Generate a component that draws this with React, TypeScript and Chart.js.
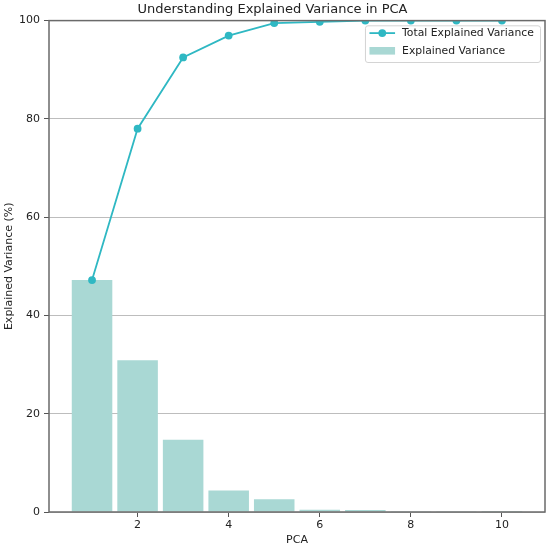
import { useEffect, useRef } from 'react';
import { Chart, registerables } from 'chart.js';

Chart.register(...registerables);

const pcaComponents = [1, 2, 3, 4, 5, 6, 7, 8, 9, 10];
const explainedVariance = [47.2, 30.9, 14.7, 4.4, 2.6, 0.45, 0.4, 0.05, 0.03, 0.02];
const totalExplainedVariance = [47.2, 78.0, 92.5, 96.95, 99.5, 99.75, 100, 100, 100, 100];
const xTicks = [2, 4, 6, 8, 10];
const yTicks = [0, 20, 40, 60, 80, 100];

const LINE_COLOR = '#2fb8c3';
const BAR_COLOR = '#a9d8d4';
const FONT = 'DejaVu Sans';

const spinesPlugin = {
  id: 'spines',
  afterDatasetsDraw(chart: any) {
    const { ctx, chartArea } = chart;
    const { left, right, top, bottom } = chartArea;
    ctx.save();
    ctx.strokeStyle = '#6a6a6a';
    ctx.lineWidth = 1.5;
    ctx.strokeRect(left, top, right - left, bottom - top);
    ctx.restore();
  },
};

const legendPlugin = {
  id: 'mplLegend',
  afterDraw(chart: any) {
    const { ctx, chartArea } = chart;
    const fontSize = 10.8;
    ctx.save();
    ctx.font = `${fontSize}px "${FONT}"`;
    const labels = ['Total Explained Variance', 'Explained Variance'];
    const w = Math.max(...labels.map((l) => ctx.measureText(l).width));
    const boxW = 36.6 + w + 6.7;
    const boxH = 36.7;
    const boxR = chartArea.right - 4.5;
    const boxL = boxR - boxW;
    const boxT = chartArea.top + 5.2;
    ctx.beginPath();
    (ctx as any).roundRect(boxL, boxT, boxW, boxH, 2.5);
    ctx.fillStyle = 'rgba(255,255,255,0.8)';
    ctx.fill();
    ctx.strokeStyle = '#d4d4d4';
    ctx.lineWidth = 1;
    ctx.stroke();

    const row1 = boxT + 7.3;
    const row2 = boxT + 25;
    const hx0 = boxL + 4;
    const hx1 = boxL + 29.6;
    ctx.strokeStyle = LINE_COLOR;
    ctx.lineWidth = 1.8;
    ctx.beginPath();
    ctx.moveTo(hx0, row1);
    ctx.lineTo(hx1, row1);
    ctx.stroke();
    ctx.fillStyle = LINE_COLOR;
    ctx.beginPath();
    ctx.arc((hx0 + hx1) / 2, row1, 3.9, 0, Math.PI * 2);
    ctx.fill();
    ctx.fillStyle = BAR_COLOR;
    ctx.fillRect(hx0, row2 - 3.8, hx1 - hx0, 7.6);

    ctx.fillStyle = '#222';
    ctx.textBaseline = 'middle';
    ctx.textAlign = 'left';
    ctx.fillText(labels[0], boxL + 36.6, row1);
    ctx.fillText(labels[1], boxL + 36.6, row2);
    ctx.restore();
  },
};

export default function App() {
  const canvasRef = useRef<HTMLCanvasElement | null>(null);

  useEffect(() => {
    document.body.style.margin = '0';
    const canvas = canvasRef.current;
    if (!canvas) return;
    Chart.defaults.font.family = FONT;
    const chart = new Chart(canvas, {
      type: 'bar',
      data: {
        datasets: [
          {
            type: 'line',
            label: 'Total Explained Variance',
            data: pcaComponents.map((x, i) => ({ x, y: totalExplainedVariance[i] })),
            borderColor: LINE_COLOR,
            backgroundColor: LINE_COLOR,
            borderWidth: 1.8,
            pointRadius: 3.9,
            pointBorderWidth: 0,
            pointBackgroundColor: LINE_COLOR,
            clip: 0,
            order: 0,
          } as any,
          {
            type: 'bar',
            label: 'Explained Variance',
            data: pcaComponents.map((x, i) => ({ x, y: explainedVariance[i] })),
            backgroundColor: BAR_COLOR,
            borderWidth: 0,
            barPercentage: 0.89,
            categoryPercentage: 1,
            order: 1,
          } as any,
        ],
      },
      options: {
        animation: false,
        responsive: false,
        devicePixelRatio: 1,
        layout: { padding: { left: 0, right: 5, top: 0, bottom: 0 } },
        plugins: {
          legend: { display: false },
          tooltip: { enabled: false },
          title: {
            display: true,
            text: 'Understanding Explained Variance in PCA',
            color: '#222',
            font: { size: 13, weight: 'normal', family: FONT },
            padding: { top: 2, bottom: 3 },
          },
        },
        scales: {
          x: {
            type: 'linear',
            min: 0.055,
            max: 10.945,
            offset: false,
            afterBuildTicks: (s: any) => {
              s.ticks = xTicks.map((v) => ({ value: v }));
            },
            afterFit: (s: any) => {
              s.height = 37;
            },
            grid: {
              offset: false,
              drawOnChartArea: false,
              drawTicks: true,
              tickLength: 5,
              tickColor: '#555',
              tickWidth: 1,
            },
            border: { display: false },
            ticks: { color: '#222', font: { size: 11 }, padding: 2, maxRotation: 0 },
            title: {
              display: true,
              text: 'PCA',
              color: '#222',
              font: { size: 11 },
              padding: { top: 0, bottom: 2 },
            },
          },
          y: {
            type: 'linear',
            min: 0,
            max: 100,
            afterBuildTicks: (s: any) => {
              s.ticks = yTicks.map((v) => ({ value: v }));
            },
            afterFit: (s: any) => {
              s.width = 49;
            },
            grid: {
              color: '#bdbdbd',
              lineWidth: 1,
              drawTicks: true,
              tickLength: 5,
              tickColor: '#555',
              tickWidth: 1,
            },
            border: { display: false },
            ticks: { color: '#222', font: { size: 11 }, padding: 4 },
            title: {
              display: true,
              text: 'Explained Variance (%)',
              color: '#222',
              font: { size: 11 },
              padding: { top: 3, bottom: 0 },
            },
          },
        },
      },
      plugins: [spinesPlugin, legendPlugin],
    });
    return () => chart.destroy();
  }, []);

  return (
    <div style={{ width: 550, height: 549 }}>
      <canvas ref={canvasRef} width={550} height={549} style={{ display: 'block' }} />
    </div>
  );
}
